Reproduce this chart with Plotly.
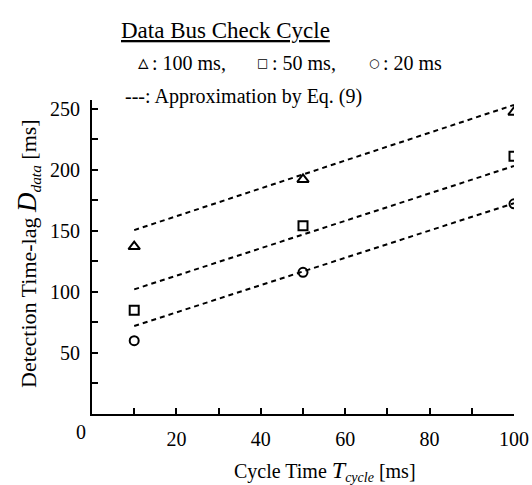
import plotly.graph_objects as go

# Measured data (Cycle time vs detection time-lag)
cycle_time = [10, 50, 100]
lag_100ms = [137, 192, 247]
lag_50ms = [85, 154, 211]
lag_20ms = [60, 116, 172]

# Approximation by Eq. (9) (line endpoints)
approx_x = [10, 100]
approx_100ms = [150.5, 253]
approx_50ms = [102, 203]
approx_20ms = [72, 172.5]

x_tickvals = [20, 40, 60, 80, 100]
x_ticktext = ["20", "40", "60", "80", "100"]
y_tickvals = [50, 100, 150, 200, 250]
y_ticktext = ["50", "100", "150", "200", "250"]

FONT = "Liberation Serif, Times New Roman, serif"
BLACK = "#000000"

fig = go.Figure()

dash_style = dict(color=BLACK, width=2, dash="5px,4px")
for yv in (approx_100ms, approx_50ms, approx_20ms):
    fig.add_trace(go.Scatter(x=approx_x, y=yv, mode="lines", line=dash_style,
                             showlegend=False, hoverinfo="skip"))

fig.add_trace(go.Scatter(x=cycle_time, y=lag_100ms, mode="markers", name="100 ms",
                         marker=dict(symbol="triangle-up-open", size=10, color=BLACK,
                                     line=dict(width=2, color=BLACK)), showlegend=False))
fig.add_trace(go.Scatter(x=cycle_time, y=lag_50ms, mode="markers", name="50 ms",
                         marker=dict(symbol="square-open", size=9, color=BLACK,
                                     line=dict(width=2, color=BLACK)), showlegend=False))
fig.add_trace(go.Scatter(x=cycle_time, y=lag_20ms, mode="markers", name="20 ms",
                         marker=dict(symbol="circle-open", size=9, color=BLACK,
                                     line=dict(width=2, color=BLACK)), showlegend=False))

W, H = 532, 485
L, R, T, B = 92, 18, 100, 71
pw, ph = W - L - R, H - T - B

def px(x):
    return (x - L) / pw

def py(y):
    return (H - B - y) / ph

annots = []
def ann(x, y, text, size=20, xanchor="left", angle=0, family=FONT):
    annots.append(dict(x=px(x), y=py(y), xref="paper", yref="paper", text=text,
                       showarrow=False, xanchor=xanchor, yanchor="middle",
                       textangle=angle, font=dict(family=family, size=size, color=BLACK)))

ann(119, 31, "<u>Data Bus Check Cycle</u>", size=23)
sym = "DejaVu Sans"
ann(143, 62, "<b>▵</b>", size=21, xanchor="center", family=sym)
ann(150, 63, ": 100 ms,")
ann(262, 63, "<b>□</b>", size=12, xanchor="center", family=sym)
ann(270, 63, ": 50 ms,")
ann(374, 63, "<b>○</b>", size=12, xanchor="center", family=sym)
ann(381, 63, ": 20 ms")
ann(123, 97, "---: Approximation by Eq. (9)")
ann(81, 432, "0", xanchor="center")
ann(325, 471, "Cycle Time <i><span style='font-size:24px'>T</span></i><sub><i>cycle</i></sub> [ms]",
    xanchor="center")
ann(28, 254, "Detection Time-lag <i><span style='font-size:27px'>D</span></i><sub><i>data</i></sub> [ms]",
    size=22, xanchor="center", angle=-90)

axis_common = dict(showline=True, linecolor=BLACK, linewidth=2, ticks="inside",
                   ticklen=6, tickwidth=2, tickcolor=BLACK, showgrid=False,
                   zeroline=False, tickfont=dict(family=FONT, size=20, color=BLACK),
                   mirror=False, automargin=False)
minor_common = dict(ticks="inside", ticklen=6, tickwidth=2, tickcolor=BLACK, showgrid=False)

fig.update_layout(
    width=W, height=H,
    margin=dict(l=L, r=R, t=T, b=B, autoexpand=False),
    paper_bgcolor="white", plot_bgcolor="white",
    xaxis=dict(range=[0, 100], tickmode="array", tickvals=x_tickvals,
               ticktext=x_ticktext, ticklabelstandoff=6,
               minor=dict(tick0=0, dtick=10, **minor_common), **axis_common),
    yaxis=dict(range=[0, 257], tickmode="array", tickvals=y_tickvals,
               ticktext=y_ticktext, ticklabelstandoff=6,
               minor=dict(tick0=0, dtick=25, **minor_common), **axis_common),
    annotations=annots,
    font=dict(family=FONT, color=BLACK),
)

fig.write_html("out.html", config={"displayModeBar": False},
               post_script="document.body.style.margin='0';")
